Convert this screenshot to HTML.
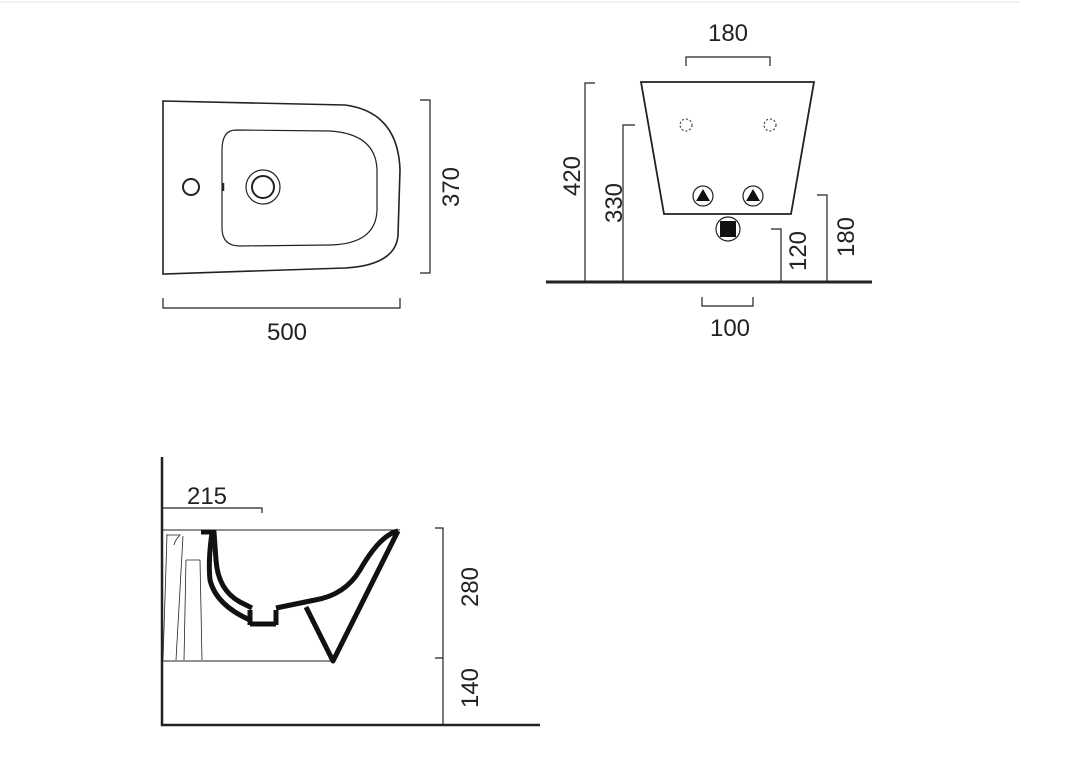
<!DOCTYPE html>
<html><head><style>
html,body{margin:0;padding:0;background:#fff;}
svg{display:block}
text{font-family:"Liberation Sans",sans-serif;font-size:24px;fill:#222;}
</style></head><body>
<svg width="1067" height="757" viewBox="0 0 1067 757" xmlns="http://www.w3.org/2000/svg">
<line x1="0" y1="2" x2="1020" y2="2" stroke="#e4e4e4" stroke-width="1"/>
<g fill="none" stroke="#222" stroke-width="1.6">
<path d="M163,101 L345,105 Q398,112 400,170 L398,235 Q396,265 345,268 L163,274 Z"/>
<path d="M236,130 L330,131 Q376,134 377,170 L377,210 Q376,244 330,245 L240,246 Q222,246 222,228 L222,150 Q222,130 236,130 Z" stroke-width="1.2"/>
<circle cx="263" cy="187" r="17" stroke-width="1.2"/>
<circle cx="263" cy="187" r="11" stroke-width="2"/>
<circle cx="191" cy="187" r="8" stroke-width="2"/>
<line x1="223" y1="183" x2="223" y2="191" stroke-width="2.5"/>
<path d="M420,100 H430 V273 H420" stroke-width="1.2"/>
<path d="M163,298 V308 H400 V298" stroke-width="1.2"/>
<path d="M641,82 H814 L791,214 H664 Z" stroke-width="1.8"/>
<circle cx="686" cy="125" r="6" stroke-dasharray="2 2" stroke-width="1"/>
<circle cx="770" cy="125" r="6" stroke-dasharray="2 2" stroke-width="1"/>
<circle cx="703" cy="196" r="10" stroke-width="1.2"/>
<circle cx="753" cy="196" r="10" stroke-width="1.2"/>
<circle cx="728" cy="229" r="12" stroke-width="1.2"/>
<path d="M686,66 V57 H770 V66" stroke-width="1.2"/>
<path d="M595,83 H585 V282" stroke-width="1.2"/>
<path d="M635,125 H623 V282" stroke-width="1.2"/>
<path d="M771,229 H781 V282" stroke-width="1.2"/>
<path d="M817,195 H827 V282" stroke-width="1.2"/>
<path d="M702,297 V306 H753 V297" stroke-width="1.2"/>
<path d="M162,457 V725 H540" stroke-width="2.5"/>
<path d="M162,508 H262 V513" stroke-width="1.2"/>
<line x1="162" y1="530" x2="400" y2="530" stroke-width="1"/>
<line x1="162" y1="661" x2="333" y2="661" stroke-width="1"/>
<path d="M435,528 H443 V725 M435,658 H443" stroke-width="1.2"/>
<path d="M167,535 L163,660 M183,536 L176,660 M186,560 L184,660 M200,560 L202,660 M186,560 H200 M166,535 H180 Q175,540 174,545" stroke-width="0.8"/>
</g>
<g fill="#111">
<polygon points="703,189 710,201 696,201"/>
<polygon points="753,189 760,201 746,201"/>
<rect x="720" y="221" width="16" height="16"/>
</g>
<line x1="546" y1="282" x2="872" y2="282" stroke="#222" stroke-width="3"/>
<g fill="none" stroke="#111" stroke-width="5" stroke-linejoin="round">
<path d="M201,532 H214 L216,560 Q218,590 240,602 L252,608"/>
<path d="M212,533 Q208,560 210,580 Q216,605 250,620"/>
<path d="M250,610 V625 M276,610 V625 M250,624 H276"/>
<path d="M276,608 Q300,603 315,600 Q345,595 360,570 Q380,535 398,531"/>
<path d="M398,531 L333,661 L306,607"/>
</g>
<text x="728" y="41" text-anchor="middle">180</text>
<text x="730" y="336" text-anchor="middle">100</text>
<text x="287" y="340" text-anchor="middle">500</text>
<text x="207" y="504" text-anchor="middle">215</text>
<text transform="translate(459,187) rotate(-90)" text-anchor="middle">370</text>
<text transform="translate(580,176) rotate(-90)" text-anchor="middle">420</text>
<text transform="translate(622,203) rotate(-90)" text-anchor="middle">330</text>
<text transform="translate(806,251) rotate(-90)" text-anchor="middle">120</text>
<text transform="translate(854,237) rotate(-90)" text-anchor="middle">180</text>
<text transform="translate(478,587) rotate(-90)" text-anchor="middle">280</text>
<text transform="translate(478,688) rotate(-90)" text-anchor="middle">140</text>
</svg>
</body></html>
